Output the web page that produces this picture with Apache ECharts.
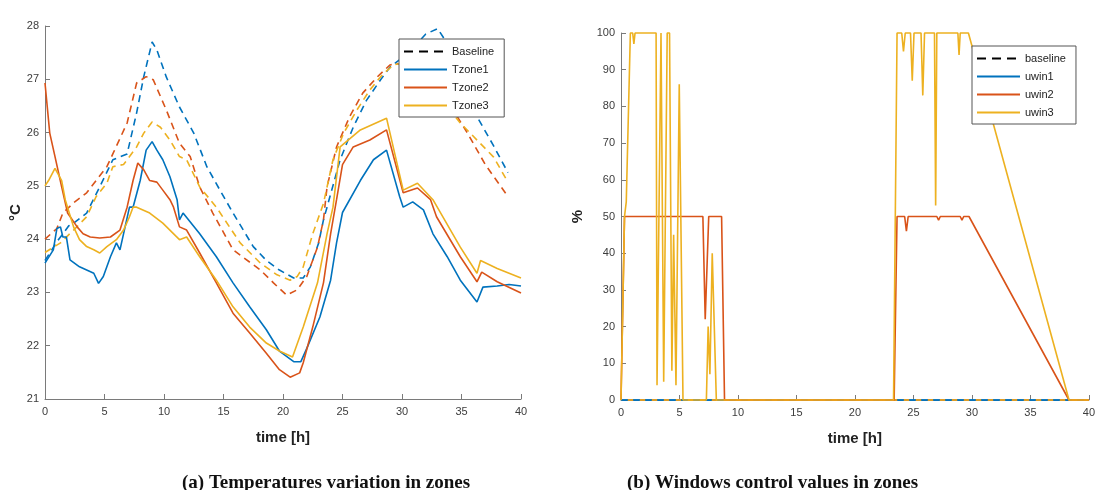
<!DOCTYPE html>
<html>
<head>
<meta charset="utf-8">
<script src="https://cdn.jsdelivr.net/npm/echarts@6/dist/echarts.min.js"></script>
<style>
  html, body { margin: 0; padding: 0; background: #fff; }
  #main { width: 1098px; height: 490px; }
</style>
</head>
<body>
<div id="main"></div>
<script>
// colours (matlab default order)
var cBlue = '#0072BD', cRed = '#D95319', cYel = '#EDB120';

// ---- (a) temperatures, time [h] / degC ----
var tBase1 = [0, 1, 2, 2.4, 3.5, 4.6, 5.7, 6.9, 7.7, 8.3, 9, 9.4, 10.2, 11.3, 12.5, 13.6, 14.7, 15.8, 17.5, 18.6, 19.7, 20.9, 21.7, 22.3, 23, 23.4, 23.7, 24.8, 25.9, 27, 28.2, 29, 30, 31, 32, 33, 34, 35, 36.3, 37.7, 38.9];
var vBase1 = [23.6, 23.95, 24.25, 24.3, 24.49, 24.98, 25.49, 25.6, 26.37, 27.05, 27.7, 27.55, 27.04, 26.48, 25.99, 25.36, 24.92, 24.49, 23.86, 23.6, 23.42, 23.27, 23.27, 23.48, 23.93, 24.36, 24.6, 25.49, 26.1, 26.6, 26.99, 27.23, 27.4, 27.6, 27.85, 27.95, 27.6, 27.0, 26.3, 25.75, 25.25];

var tBase2 = [0, 1, 1.5, 2.4, 3.5, 4.3, 5.2, 5.7, 6.9, 7.7, 8.5, 9.1, 10.2, 11.3, 12.2, 13, 14.1, 15.8, 18.1, 19.2, 20.3, 21.2, 22, 22.9, 23.4, 23.7, 24.5, 25.6, 26.7, 27.9, 29, 29.5, 31, 33, 35.5, 37, 38.9];
var vBase2 = [24.0, 24.2, 24.49, 24.68, 24.87, 25.1, 25.36, 25.6, 26.18, 26.93, 27.05, 26.99, 26.42, 25.8, 25.55, 24.98, 24.49, 23.8, 23.42, 23.18, 22.95, 23.05, 23.3, 23.85, 24.36, 24.98, 25.73, 26.3, 26.74, 27.04, 27.27, 27.3, 27.2, 26.9, 25.99, 25.4, 24.8];

var tBase3 = [0, 1.3, 2.4, 3.5, 4.3, 5.2, 5.7, 6.6, 7.7, 8.3, 9, 9.7, 10.5, 11.3, 11.9, 13, 14.4, 16.4, 18.1, 19.5, 20.6, 21.2, 21.7, 22.5, 23.4, 24.2, 25.1, 26.2, 27.3, 28.4, 29.3, 30, 32, 34.9, 37.7, 38.9];
var vBase3 = [23.75, 23.93, 24.17, 24.42, 24.8, 25.05, 25.36, 25.4, 25.73, 25.99, 26.2, 26.1, 25.86, 25.55, 25.49, 24.98, 24.6, 23.93, 23.55, 23.33, 23.23, 23.3, 23.48, 24.1, 24.67, 25.49, 25.99, 26.42, 26.8, 27.1, 27.27, 27.3, 27.0, 26.18, 25.54, 25.07];

var tZone1 = [0, 0.7, 1, 1.3, 1.5, 1.8, 2.1, 2.9, 3.5, 4.1, 4.5, 4.9, 5.5, 6, 6.3, 6.6, 7.1, 7.4, 8, 8.5, 9, 9.4, 9.9, 10.5, 11.1, 11.3, 11.6, 13, 14.4, 15.8, 17.2, 18.6, 19.7, 20.9, 21.5, 22, 23.1, 24, 24.5, 25, 26.5, 27.6, 28.7, 29.8, 30.1, 30.9, 31.8, 32.6, 33.8, 34.9, 36.3, 36.8, 38, 39, 40];
var vZone1 = [23.55, 23.8, 24.2, 24.23, 24.04, 24.04, 23.61, 23.48, 23.42, 23.36, 23.17, 23.3, 23.67, 23.93, 23.8, 24.1, 24.6, 24.6, 25.1, 25.67, 25.83, 25.67, 25.49, 25.17, 24.74, 24.36, 24.49, 24.1, 23.67, 23.18, 22.73, 22.3, 21.9, 21.7, 21.7, 21.95, 22.54, 23.23, 23.93, 24.5, 25.1, 25.49, 25.67, 24.8, 24.6, 24.7, 24.55, 24.1, 23.67, 23.23, 22.82, 23.1, 23.12, 23.15, 23.12];

var tZone2 = [0, 0.4, 0.84, 1.4, 1.9, 2.7, 3.2, 3.8, 4.6, 5.5, 6.3, 6.9, 7.4, 7.8, 8.3, 8.8, 9.4, 9.9, 10.5, 10.8, 11.3, 11.9, 13, 14.4, 15.8, 17.2, 18.6, 19.7, 20.6, 21.4, 21.7, 22.5, 23.4, 24, 24.5, 25, 25.9, 27.3, 28.7, 30.1, 31.3, 32.4, 32.9, 34.9, 36.3, 36.7, 38, 40];
var vZone2 = [26.93, 25.99, 25.55, 24.98, 24.49, 24.23, 24.1, 24.04, 24.02, 24.04, 24.17, 24.6, 25.1, 25.43, 25.3, 25.1, 25.07, 24.92, 24.74, 24.6, 24.23, 24.17, 23.74, 23.18, 22.61, 22.24, 21.86, 21.55, 21.41, 21.49, 21.68, 22.35, 23.18, 24.1, 24.74, 25.4, 25.73, 25.86, 26.05, 24.87, 24.96, 24.74, 24.42, 23.67, 23.2, 23.38, 23.2, 22.99];

var tZone3 = [0, 0.3, 0.84, 1.4, 1.7, 2.4, 2.9, 3.5, 4.1, 4.6, 5.2, 6, 6.6, 7.1, 7.4, 7.7, 8.8, 9.9, 11.3, 11.9, 13, 14.4, 15.8, 17.2, 18.6, 19.7, 20.8, 21.7, 22.9, 23.7, 24.2, 24.8, 26.5, 28.7, 30.1, 31.3, 32.6, 34.9, 36.3, 36.6, 38, 40];
var vZone3 = [25.0, 25.1, 25.33, 25.1, 24.74, 24.23, 23.99, 23.86, 23.8, 23.74, 23.86, 23.99, 24.17, 24.42, 24.6, 24.6, 24.49, 24.3, 23.99, 24.04, 23.67, 23.23, 22.73, 22.35, 22.05, 21.9, 21.79, 22.35, 23.18, 24.1, 24.6, 25.73, 26.05, 26.27, 24.92, 25.05, 24.74, 23.85, 23.36, 23.6, 23.45, 23.27];

// ---- (b) window control, time [h] / % ----
var tWinBase = [0, 40];
var vWinBase = [0, 0];
var tWin1 = [0, 40];
var vWin1 = [0, 0];
var tWin2 = [0, 0.3, 7.0, 7.2, 7.5, 8.6, 8.85, 23.35, 23.6, 24.25, 24.4, 24.55, 27.0, 27.15, 27.3, 29.0, 29.15, 29.3, 29.75, 38.3, 40];
var vWin2 = [0, 50, 50, 22, 50, 50, 0, 0, 50, 50, 46, 50, 50, 49, 50, 50, 49, 50, 50, 0, 0];
var tWin3 = [0, 0.15, 0.3, 0.45, 0.8, 1.0, 1.1, 1.2, 3.0, 3.08, 3.42, 3.65, 3.95, 4.15, 4.35, 4.5, 4.7, 4.98, 5.3, 7.3, 7.45, 7.6, 7.8, 8.15, 23.3, 23.6, 24.0, 24.15, 24.3, 24.75, 24.9, 25.05, 25.65, 25.8, 25.95, 26.8, 26.9, 27.0, 28.8, 28.9, 29.0, 29.7, 38.3, 40];
var vWin3 = [0, 0, 50, 54, 100, 100, 97, 100, 100, 4, 100, 5, 100, 100, 8, 45, 4, 86, 0, 0, 20, 7, 40, 0, 0, 100, 100, 95, 100, 100, 87, 100, 100, 83, 100, 100, 53, 100, 100, 94, 100, 100, 0, 0];

function zip(t, v) {
    return t.map(function (x, i) { return [x, v[i]]; });
}

var axisGray = '#7a7a7a';
var labelStyle = { color: '#3c3c3c', fontSize: 11, fontFamily: 'Liberation Sans' };
var nameStyle = { color: '#222', fontSize: 15, fontWeight: 'bold', fontFamily: 'Liberation Sans' };

function xAx(grid) {
    return {
        type: 'value', gridIndex: grid, min: 0, max: 40, interval: 5,
        axisLine: { lineStyle: { color: axisGray, width: 1 } },
        axisTick: { inside: true, length: 5, lineStyle: { color: axisGray } },
        axisLabel: Object.assign({ margin: 7 }, labelStyle),
        splitLine: { show: false },
        name: 'time [h]', nameLocation: 'middle', nameGap: 31, nameTextStyle: nameStyle
    };
}

function yAx(grid, min, max, step, name, gap) {
    return {
        type: 'value', gridIndex: grid, min: min, max: max, interval: step,
        axisLine: { show: true, lineStyle: { color: axisGray, width: 1 } },
        axisTick: { show: true, inside: true, length: 5, lineStyle: { color: axisGray } },
        axisLabel: Object.assign({ margin: 6 }, labelStyle),
        splitLine: { show: false },
        name: name, nameLocation: 'middle', nameRotate: 90, nameGap: gap, nameTextStyle: nameStyle
    };
}

function line(name, xi, t, v, color, dashed) {
    return {
        name: name, type: 'line', xAxisIndex: xi, yAxisIndex: xi,
        data: zip(t, v), symbol: 'none', showSymbol: false, clip: false,
        lineStyle: { color: color, width: 1.6, type: dashed ? [7, 5] : 'solid' },
        itemStyle: { color: color },
        emphasis: { disabled: true }
    };
}

function dummy(name, xi) {
    return {
        name: name, type: 'line', xAxisIndex: xi, yAxisIndex: xi, data: [],
        symbol: 'none', lineStyle: { color: '#000', width: 1.6, type: [9, 6] },
        itemStyle: { color: '#000' }
    };
}

var chart = echarts.init(document.getElementById('main'));

var legendBase = {
    orient: 'vertical', itemWidth: 43, itemHeight: 11, itemGap: 7,
    backgroundColor: '#fff', borderColor: '#555', borderWidth: 1, borderRadius: 0,
    padding: [7, 10, 6, 4],
    itemStyle: { opacity: 0 },
    textStyle: { color: '#222', fontSize: 11, fontFamily: 'Liberation Sans' },
    selectedMode: false
};

var winBase2 = line('wb2', 1, tWinBase, vWinBase, cRed, true);
var winBase3 = line('wb3', 1, tWinBase, vWinBase, cYel, true);
winBase3.lineStyle.dashOffset = 6;
winBase2.lineStyle.dashOffset = 6;

var capRich = {
    n: { fontFamily: 'Liberation Serif', fontSize: 19, color: '#111' },
    b: { fontFamily: 'Liberation Serif', fontSize: 19, fontWeight: 'bold', color: '#111' }
};

chart.setOption({
    animation: false,
    backgroundColor: '#fff',
    grid: [
        { left: 45, top: 26, width: 476, height: 373 },
        { left: 621, top: 33, width: 468, height: 367 }
    ],
    xAxis: [xAx(0), xAx(1)],
    yAxis: [
        yAx(0, 21, 28, 1, '°C', 19),
        yAx(1, 0, 100, 10, '%', 36)
    ],
    legend: [
        Object.assign({ left: 399, top: 39, data: ['Baseline', 'Tzone1', 'Tzone2', 'Tzone3'] }, legendBase),
        Object.assign({ left: 972, top: 46, data: ['baseline', 'uwin1', 'uwin2', 'uwin3'] }, legendBase)
    ],
    title: [
        { text: '{n|(}{b|a}{n|) Temperatures variation in zones}', left: 177, top: 469, textStyle: { rich: capRich } },
        { text: '{n|(}{b|b}{n|) Windows control values in zones}', left: 622, top: 469, textStyle: { rich: capRich } }
    ],
    series: [
        dummy('Baseline', 0),
        line('base1', 0, tBase1, vBase1, cBlue, true),
        line('base2', 0, tBase2, vBase2, cRed, true),
        line('base3', 0, tBase3, vBase3, cYel, true),
        line('Tzone1', 0, tZone1, vZone1, cBlue, false),
        line('Tzone2', 0, tZone2, vZone2, cRed, false),
        line('Tzone3', 0, tZone3, vZone3, cYel, false),

        dummy('baseline', 1),
        line('uwin1', 1, tWin1, vWin1, cBlue, false),
        winBase2,
        winBase3,
        line('wb1', 1, tWinBase, vWinBase, cBlue, true),
        line('uwin2', 1, tWin2, vWin2, cRed, false),
        line('uwin3', 1, tWin3, vWin3, cYel, false)
    ]
});
</script>
</body>
</html>
